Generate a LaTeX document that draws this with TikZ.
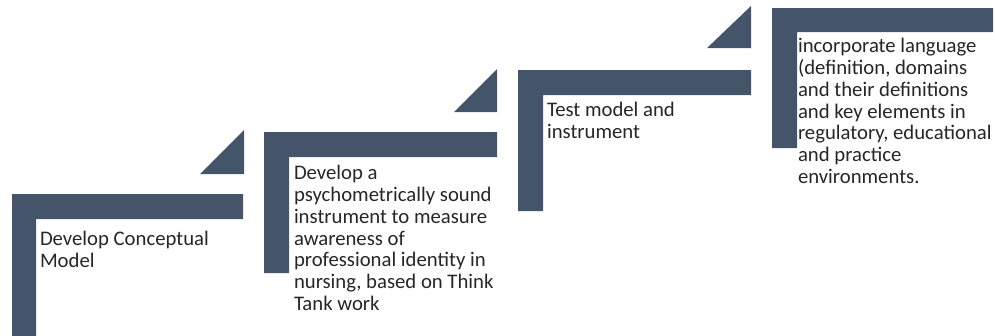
\documentclass[tikz,border=0pt]{standalone}
\usepackage{fontspec}
\newfontfamily\carlito{Carlito}
\definecolor{barblue}{HTML}{44546A}
\definecolor{txtgray}{HTML}{262626}
\tikzset{
  bar/.style={fill=barblue, draw=none},
  steptext/.style={anchor=north west, inner sep=0pt, outer sep=0pt, align=left,
    text=txtgray, font=\carlito\fontsize{20.8}{21.8}\selectfont}
}
\begin{document}
\begin{tikzpicture}[x=1bp, y=-1bp]
\useasboundingbox (0,0) rectangle (995,335);
% step 1
\path[bar] (12,194) -- (243,194) -- (243,219) -- (36,219) -- (36,336) -- (12,336) -- cycle;
\path[bar] (200,174) -- (244,174) -- (244,130) -- cycle;
% step 2
\path[bar] (264,132) -- (497,132) -- (497,157) -- (289,157) -- (289,273) -- (264,273) -- cycle;
\path[bar] (454,112) -- (497,112) -- (497,69) -- cycle;
% step 3
\path[bar] (518,70) -- (751,70) -- (751,95) -- (543,95) -- (543,211) -- (518,211) -- cycle;
\path[bar] (707,48) -- (751,48) -- (751,6) -- cycle;
% step 4
\path[bar] (772,8) -- (993,8) -- (993,32) -- (797,32) -- (797,148) -- (772,148) -- cycle;
% texts
\node[steptext] (t1) at (40,230.7) {\strut Develop Conceptual\\Model};
\node[steptext] (t2) at (294,164.7) {\strut Develop a\\psychometrically sound\\instrument to measure\\awareness of\\professional identity in\\nursing, based on Think\\Tank work};
\node[steptext] (t3) at (547,101.7) {\strut Test model and\\instrument};
\node[steptext] (t4) at (798,37.7) {\strut incorporate language\\(definition, domains\\and their definitions\\and key elements in\\regulatory, educational\\and practice\\environments.};
\end{tikzpicture}
\end{document}
